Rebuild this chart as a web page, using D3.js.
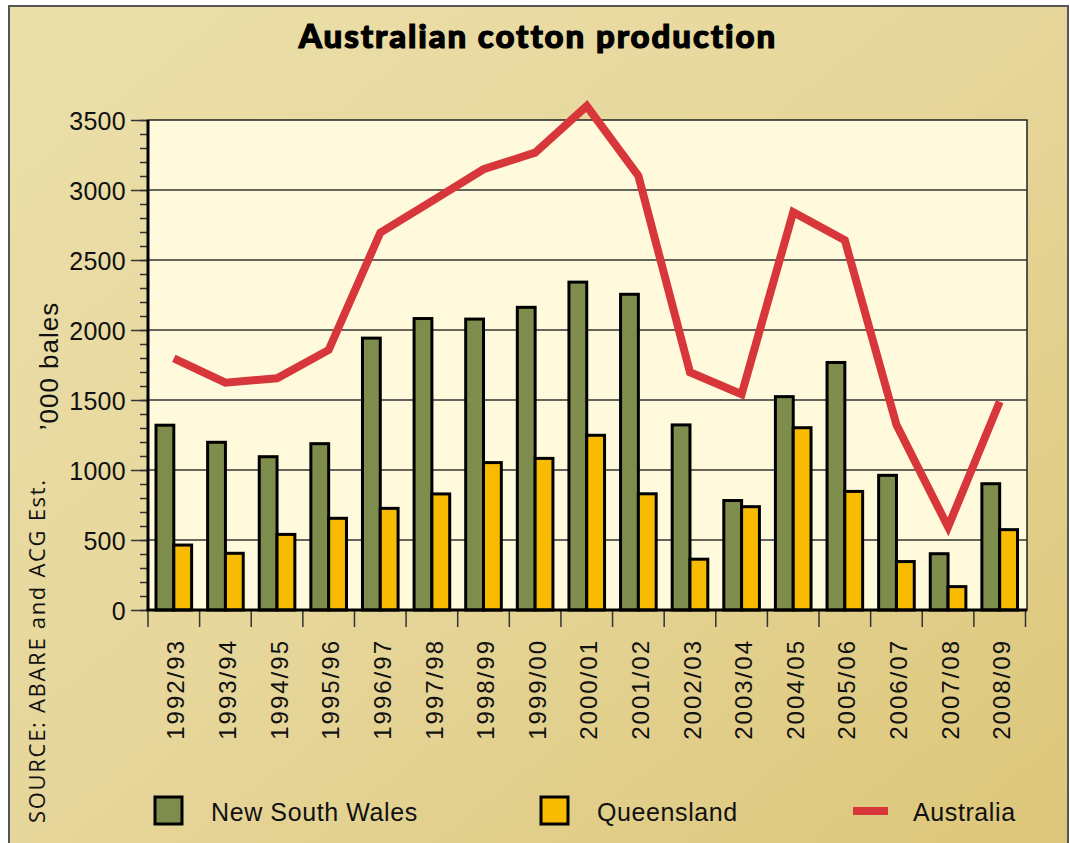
<!DOCTYPE html>
<html>
<head>
<meta charset="utf-8">
<script src="https://cdn.jsdelivr.net/npm/d3@7"></script>
<style>
  body { margin: 0; background: #fff; }
  svg { display: block; }
  .tick text { font-family: "Liberation Sans", Arial, sans-serif; fill: #111; }
</style>
</head>
<body>
<svg width="1070" height="843"></svg>
<script>
// seasons and production, '000 bales
var seasons = ["1992/93", "1993/94", "1994/95", "1995/96", "1996/97", "1997/98", "1998/99", "1999/00",
               "2000/01", "2001/02", "2002/03", "2003/04", "2004/05", "2005/06", "2006/07", "2007/08", "2008/09"];
var nsw = [1320, 1198, 1095, 1188, 1942, 2082, 2078, 2162, 2342, 2255, 1322, 782, 1524, 1768, 962, 402, 902];
var qld = [464, 405, 540, 655, 726, 829, 1053, 1083, 1248, 830, 363, 738, 1302, 847, 346, 167, 574];
var australia = [1798, 1624, 1655, 1857, 2695, 2920, 3148, 3267, 3600, 3101, 1698, 1541, 2842, 2641, 1323, 593, 1488];
var yTicks = [0, 500, 1000, 1500, 2000, 2500, 3000, 3500];

var seriesKeys = ["nsw", "qld"];
var seriesNames = {nsw: "New South Wales", qld: "Queensland", aus: "Australia"};
var colors = {nsw: "#7e8d4b", qld: "#f9bb00", aus: "#d7373a"};

function createChart() {
  var svg = d3.select("svg");

  var defs = svg.append("defs");
  var grad = defs.append("linearGradient")
      .attr("id", "bg")
      .attr("x1", "0").attr("y1", "0").attr("x2", "1").attr("y2", "1");
  grad.append("stop").attr("offset", "0").attr("stop-color", "#ebdfaa");
  grad.append("stop").attr("offset", "0.5").attr("stop-color", "#e6d69a");
  grad.append("stop").attr("offset", "1").attr("stop-color", "#dcc679");

  // outer panel
  svg.append("rect")
      .attr("x", 9).attr("y", 6)
      .attr("width", 1059).attr("height", 850)
      .attr("fill", "url(#bg)")
      .attr("stroke", "#555").attr("stroke-width", 2);

  svg.append("text")
      .attr("x", 538).attr("y", 48)
      .attr("text-anchor", "middle")
      .style("font", "900 33px Lato, 'DejaVu Sans', sans-serif")
      .style("letter-spacing", "1.9px")
      .attr("fill", "#000")
      .attr("stroke", "#000")
      .attr("stroke-width", 1.2)
      .text("Australian cotton production");

  var x = d3.scaleBand()
      .domain(seasons)
      .range([148, 1025.5]);

  var bw = x.bandwidth();

  var x1 = d3.scaleBand()
      .domain(seriesKeys)
      .range([8, bw - 8]);

  var y = d3.scaleLinear()
      .domain([0, 3500])
      .range([610, 120]);

  var left = x.range()[0], right = x.range()[1];

  // plot background
  svg.append("rect")
      .attr("x", left).attr("y", y(3500))
      .attr("width", right - left + 1.5).attr("height", y(0) - y(3500))
      .attr("fill", "#fffadc")
      .attr("stroke", "#222").attr("stroke-width", 1.5);

  // gridlines
  svg.append("g")
      .selectAll("line")
      .data(yTicks.slice(1, -1))
      .enter().append("line")
        .attr("x1", left).attr("x2", right + 1.5)
        .attr("y1", function(d) { return y(d); })
        .attr("y2", function(d) { return y(d); })
        .attr("stroke", "#333").attr("stroke-width", 1.5);

  // bars
  var group = svg.append("g")
    .selectAll("g")
    .data(seasons)
    .enter().append("g")
      .attr("transform", function(d) { return "translate(" + x(d) + ",0)"; });

  group.selectAll("rect")
    .data(function(d, i) { return [{key: "nsw", value: nsw[i]}, {key: "qld", value: qld[i]}]; })
    .enter().append("rect")
      .attr("x", function(d) { return x1(d.key); })
      .attr("y", function(d) { return y(d.value); })
      .attr("width", x1.bandwidth())
      .attr("height", function(d) { return y(0) - y(d.value); })
      .attr("fill", function(d) { return colors[d.key]; })
      .attr("stroke", "#000")
      .attr("stroke-width", 3);

  // Australia line
  var line = d3.line()
      .x(function(d, i) { return x(seasons[i]) + bw / 2; })
      .y(function(d) { return y(d); });

  svg.append("path")
      .datum(australia)
      .attr("d", line)
      .attr("fill", "none")
      .attr("stroke", colors.aus)
      .attr("stroke-width", 8)
      .attr("stroke-linejoin", "miter")
      .attr("stroke-miterlimit", 10);

  // y axis: minor then major ticks
  svg.append("g")
      .attr("transform", "translate(" + left + ",0)")
      .call(d3.axisLeft(y).tickValues(d3.range(0, 3501, 100)).tickSize(8).tickFormat(""))
      .call(function(g) { g.select(".domain").remove(); })
      .call(function(g) { g.selectAll("line").attr("stroke", "#333").attr("stroke-width", 1.5); });

  svg.append("g")
      .attr("transform", "translate(" + left + ",0)")
      .call(d3.axisLeft(y).tickValues(yTicks).tickSize(17).tickPadding(5).tickFormat(d3.format("d")))
      .call(function(g) { g.select(".domain").remove(); })
      .call(function(g) { g.selectAll("line").attr("stroke", "#333").attr("stroke-width", 1.5); })
      .call(function(g) {
        g.selectAll("text")
          .style("font-size", "25px")
          .style("letter-spacing", "0.3px")
          .attr("dy", "0.36em");
      });

  // x axis: ticks at band boundaries
  svg.append("g")
      .selectAll("line")
      .data(seasons.map(function(d) { return x(d); }).concat([right]))
      .enter().append("line")
        .attr("x1", function(d) { return d; }).attr("x2", function(d) { return d; })
        .attr("y1", y(0)).attr("y2", y(0) + 17)
        .attr("stroke", "#333").attr("stroke-width", 1.5);

  svg.append("g")
      .attr("transform", "translate(0," + y(0) + ")")
      .call(d3.axisBottom(x).tickSize(0).tickPadding(0))
      .call(function(g) { g.select(".domain").remove(); })
      .call(function(g) {
        g.selectAll("text")
          .attr("transform", "translate(2,29) rotate(-90)")
          .attr("text-anchor", "end")
          .attr("x", 0).attr("y", 0)
          .attr("dy", "0.36em")
          .style("font-size", "24px")
          .style("letter-spacing", "2px");
      });

  // axis lines
  svg.append("line")
      .attr("x1", left).attr("x2", left)
      .attr("y1", y(3500)).attr("y2", y(0))
      .attr("stroke", "#000").attr("stroke-width", 3);
  svg.append("line")
      .attr("x1", left - 1.5).attr("x2", right + 1.5)
      .attr("y1", y(0)).attr("y2", y(0))
      .attr("stroke", "#000").attr("stroke-width", 3);

  // y axis title
  svg.append("text")
      .attr("transform", "translate(58,366) rotate(-90)")
      .attr("text-anchor", "middle")
      .style("font", "26px 'Liberation Sans', Arial, sans-serif")
      .style("letter-spacing", "1px")
      .attr("fill", "#111")
      .text("\u2019000 bales");

  // source note
  svg.append("text")
      .attr("transform", "translate(45,823) rotate(-90)")
      .attr("text-anchor", "start")
      .style("font", "22px 'Open Sans', 'Noto Sans', sans-serif")
      .style("letter-spacing", "1.7px")
      .attr("fill", "#111")
      .text("SOURCE: ABARE and ACG Est.");

  // legend
  var legend = [
    {key: "nsw", x: 155, tx: 211},
    {key: "qld", x: 541, tx: 597},
    {key: "aus", x: 853, tx: 913}
  ];

  var lg = svg.append("g")
    .selectAll("g")
    .data(legend)
    .enter().append("g");

  lg.filter(function(d) { return d.key !== "aus"; })
    .append("rect")
      .attr("x", function(d) { return d.x; })
      .attr("y", 797)
      .attr("width", 27).attr("height", 27)
      .attr("fill", function(d) { return colors[d.key]; })
      .attr("stroke", "#000").attr("stroke-width", 3);

  lg.filter(function(d) { return d.key === "aus"; })
    .append("line")
      .attr("x1", function(d) { return d.x; })
      .attr("x2", function(d) { return d.x + 35; })
      .attr("y1", 811).attr("y2", 811)
      .attr("stroke", colors.aus).attr("stroke-width", 8);

  lg.append("text")
      .attr("x", function(d) { return d.tx; })
      .attr("y", 821)
      .style("font", "25px 'Liberation Sans', Arial, sans-serif")
      .style("letter-spacing", "0.6px")
      .attr("fill", "#111")
      .text(function(d) { return seriesNames[d.key]; });
}

createChart();
</script>
</body>
</html>
